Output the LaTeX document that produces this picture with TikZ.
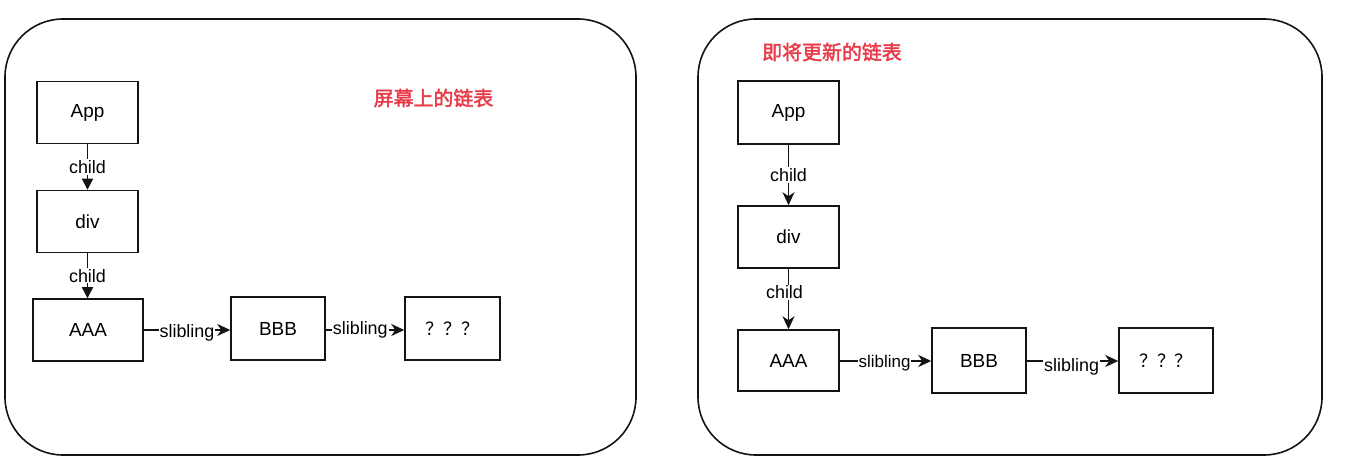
\documentclass[tikz,border=0pt]{standalone}
\usepackage{fontspec}
\setmainfont{Liberation Sans}
\newfontfamily\cjk{Noto Sans CJK SC}
\newfontfamily\cjkb{Noto Sans CJK SC}[FakeBold=2]
\usetikzlibrary{arrows.meta}
\definecolor{titlered}{RGB}{232,58,72}
\definecolor{inkgray}{RGB}{20,20,20}
\begin{document}
\begin{tikzpicture}[x=1bp,y=-1bp,
  panel/.style={draw=inkgray, line width=1.6bp, rounded corners=58bp, inner sep=0},
  box/.style={draw=inkgray, line width=1.5bp, inner sep=0, font=\fontsize{19}{21}\selectfont},
  elabel/.style={fill=white, inner sep=1bp, font=\fontsize{18}{20}\selectfont},
  link/.style={draw=inkgray, line width=1.5bp},
  tri/.style={-{Triangle[length=11bp,width=11bp]}},
  stl/.style={-{Stealth[length=13bp,width=12bp,inset=4bp]}},
  paneltitle/.style={text=titlered, font=\cjkb\fontsize{20}{22}\selectfont, inner sep=0}
]
\useasboundingbox (0,0) rectangle (1346,470);
\fill[white] (0,0) rectangle (1346,470);

% panels
\node[panel, minimum width=631bp, minimum height=436bp] (lp) at (320.5,237) {};
\node[panel, minimum width=624bp, minimum height=436bp] (rp) at (1010,237) {};

% left panel
\node[paneltitle] (lt) at (433.5,98) {屏幕上的链表};
\node[box, minimum width=101bp, minimum height=62bp] (lapp) at (87.5,112.5) {App};
\node[box, minimum width=101bp, minimum height=62bp] (ldiv) at (87.5,221.5) {div};
\node[box, minimum width=110bp, minimum height=62bp] (laaa) at (88,330) {AAA};
\node[box, minimum width=94bp, minimum height=63bp] (lbbb) at (278,328.5) {BBB};
\node[box, minimum width=95bp, minimum height=63bp, font=\cjk\fontsize{18}{20}\selectfont] (lq) at (452.5,328.5) {？？？};

\draw[link, tri] (lapp) -- node[elabel] (lc1) {child} (ldiv);
\draw[link, tri] (ldiv) -- node[elabel] (lc2) {child} (laaa.north -| ldiv.south);
\draw[link, stl] (laaa.east |- 0,330) -- node[elabel, pos=0.5, yshift=-3bp] (ls1) {slibling} (lbbb.west |- 0,330);
\draw[link, stl] (lbbb.east |- 0,330) -- node[elabel, pos=0.44] (ls2) {slibling} (lq.west |- 0,330);

% right panel
\node[paneltitle] (rt) at (832,52) {即将更新的链表};
\node[box, minimum width=101bp, minimum height=63bp] (rapp) at (788.5,112.5) {App};
\node[box, minimum width=101bp, minimum height=62bp] (rdiv) at (788.5,237) {div};
\node[box, minimum width=101bp, minimum height=61bp] (raaa) at (788.5,360.5) {AAA};
\node[box, minimum width=94bp, minimum height=65bp] (rbbb) at (979,360.5) {BBB};
\node[box, minimum width=94bp, minimum height=65bp, font=\cjk\fontsize{18}{20}\selectfont] (rq) at (1166,360.5) {？？？};

\draw[link, stl] (rapp) -- node[elabel] (rc1) {child} (rdiv);
\draw[link, stl] (rdiv) -- node[elabel, pos=0.39, xshift=-4bp] (rc2) {child} (raaa);
\draw[link, stl] (raaa.east |- 0,361) -- node[elabel, pos=0.49, yshift=-2bp, font=\fontsize{17}{19}\selectfont] (rs1) {slibling} (rbbb.west |- 0,361);
\draw[link, stl] (rbbb.east |- 0,361) -- node[elabel, pos=0.49, yshift=-6bp] (rs2) {slibling} (rq.west |- 0,361);
\end{tikzpicture}
\end{document}
